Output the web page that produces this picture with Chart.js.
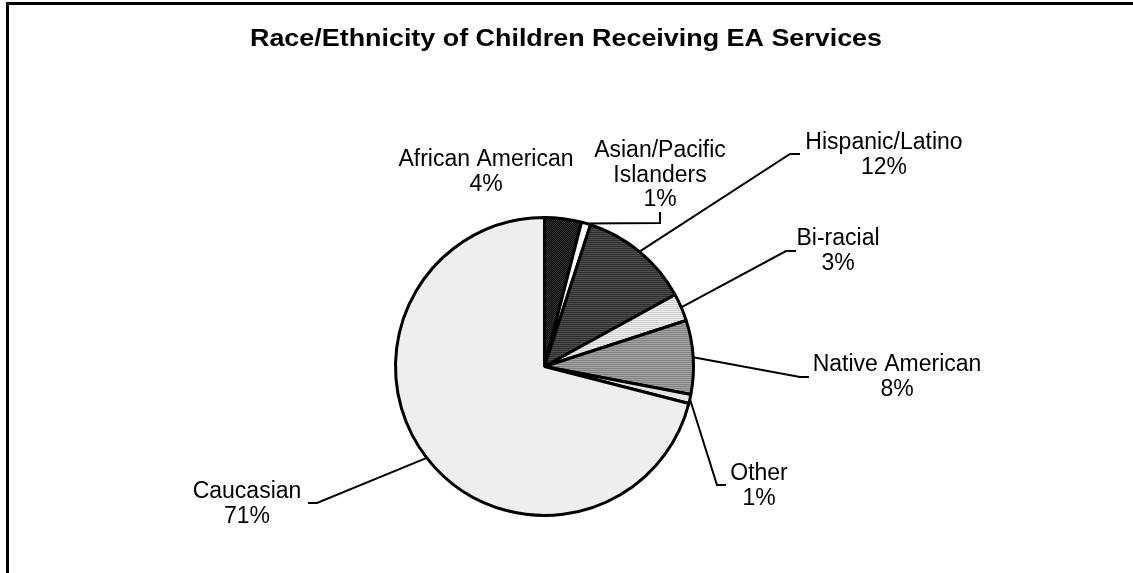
<!DOCTYPE html>
<html>
<head>
<meta charset="utf-8">
<script src="https://cdn.jsdelivr.net/npm/chart.js@4.4.1/dist/chart.umd.min.js"></script>
<style>
  html, body { margin: 0; padding: 0; background: #fff; }
  #wrap { position: relative; width: 1133px; height: 573px; }
  canvas { display: block; }
</style>
</head>
<body>
<div id="wrap"><canvas id="pie" width="1133" height="573"></canvas></div>
<script>
// data
const categories = [
  ['African American'],
  ['Asian/Pacific', 'Islanders'],
  ['Hispanic/Latino'],
  ['Bi-racial'],
  ['Native American'],
  ['Other'],
  ['Caucasian']
];
const shares = [4, 1, 12, 3, 8, 1, 71];
const chartTitle = 'Race/Ethnicity of Children Receiving EA Services';

// label placement: text centre (x, y of first line) and leader elbow points
const labelSpots = [
  { x: 486, y: 160, leader: [] },
  { x: 660, y: 151, leader: [[660, 223], [660, 212]] },
  { x: 884, y: 143, leader: [[790, 154], [800, 154]] },
  { x: 838, y: 239, leader: [[786, 251], [796, 251]] },
  { x: 897, y: 365, leader: [[800, 377], [809, 377]] },
  { x: 759, y: 474, leader: [[717, 485], [726, 485]] },
  { x: 247, y: 492, leader: [[317, 503], [308, 503]] }
];

// hatch-ish fills like the old excel patterns
function stripes(base, line, step) {
  const c = document.createElement('canvas');
  c.width = 4; c.height = step;
  const g = c.getContext('2d');
  g.fillStyle = base; g.fillRect(0, 0, 4, step);
  g.fillStyle = line; g.fillRect(0, 0, 4, 1);
  return g.createPattern(c, 'repeat');
}
function checks(base, dot) {
  const c = document.createElement('canvas');
  c.width = 2; c.height = 2;
  const g = c.getContext('2d');
  g.fillStyle = base; g.fillRect(0, 0, 2, 2);
  g.fillStyle = dot; g.fillRect(0, 0, 1, 1); g.fillRect(1, 1, 1, 1);
  return g.createPattern(c, 'repeat');
}

const fills = [
  checks('#0c0c0c', '#333333'),
  '#ffffff',
  stripes('#4e4e4e', '#2e2e2e', 2),
  stripes('#eeeeee', '#d0d0d0', 2),
  stripes('#a2a2a2', '#848484', 2),
  '#e4e4e4',
  '#eeeeee'
];

const labelFont = '23px "Liberation Sans", Arial, sans-serif';

const labelPlugin = {
  id: 'leaderLabels',
  beforeDraw(chart) {
    const ctx = chart.ctx;
    ctx.save();
    // frame
    ctx.strokeStyle = '#000';
    ctx.lineWidth = 3;
    ctx.beginPath();
    ctx.moveTo(7.5, 600);
    ctx.lineTo(7.5, 3.5);
    ctx.lineTo(1140, 3.5);
    ctx.stroke();
    // title, stretched a little like the original
    ctx.fillStyle = '#000';
    ctx.font = 'bold 24px "Liberation Sans", Arial, sans-serif';
    ctx.textBaseline = 'alphabetic';
    ctx.textAlign = 'center';
    const w = ctx.measureText(chartTitle).width;
    ctx.translate(566, 46);
    ctx.scale(632 / w, 1);
    ctx.fillText(chartTitle, 0, 0);
    ctx.restore();
  },
  afterDatasetsDraw(chart) {
    const ctx = chart.ctx;
    const arcs = chart.getDatasetMeta(0).data;
    ctx.save();
    ctx.strokeStyle = '#000';
    ctx.lineWidth = 2;
    ctx.fillStyle = '#000';
    ctx.font = labelFont;
    ctx.textAlign = 'center';
    ctx.textBaseline = 'middle';
    arcs.forEach((arc, i) => {
      const spot = labelSpots[i];
      const p = arc.getProps(['x', 'y', 'startAngle', 'endAngle', 'outerRadius'], true);
      const mid = (p.startAngle + p.endAngle) / 2;
      if (spot.leader.length) {
        ctx.beginPath();
        ctx.moveTo(p.x + Math.cos(mid) * p.outerRadius, p.y + Math.sin(mid) * p.outerRadius);
        spot.leader.forEach(pt => ctx.lineTo(pt[0], pt[1]));
        ctx.stroke();
      }
      const lines = categories[i].concat([shares[i] + '%']);
      lines.forEach((t, k) => ctx.fillText(t, spot.x, spot.y + k * 24.5));
    });
    ctx.restore();
  }
};

new Chart(document.getElementById('pie'), {
  type: 'pie',
  data: {
    labels: categories.map(c => c.join(' ')),
    datasets: [{
      data: shares,
      backgroundColor: fills,
      borderColor: '#000',
      borderWidth: 3
    }]
  },
  options: {
    responsive: false,
    animation: false,
    events: [],
    layout: { padding: { top: 216, bottom: 56, left: 394, right: 438 } },
    plugins: {
      legend: { display: false },
      title: { display: false },
      tooltip: { enabled: false }
    }
  },
  plugins: [labelPlugin]
});
</script>
</body>
</html>
